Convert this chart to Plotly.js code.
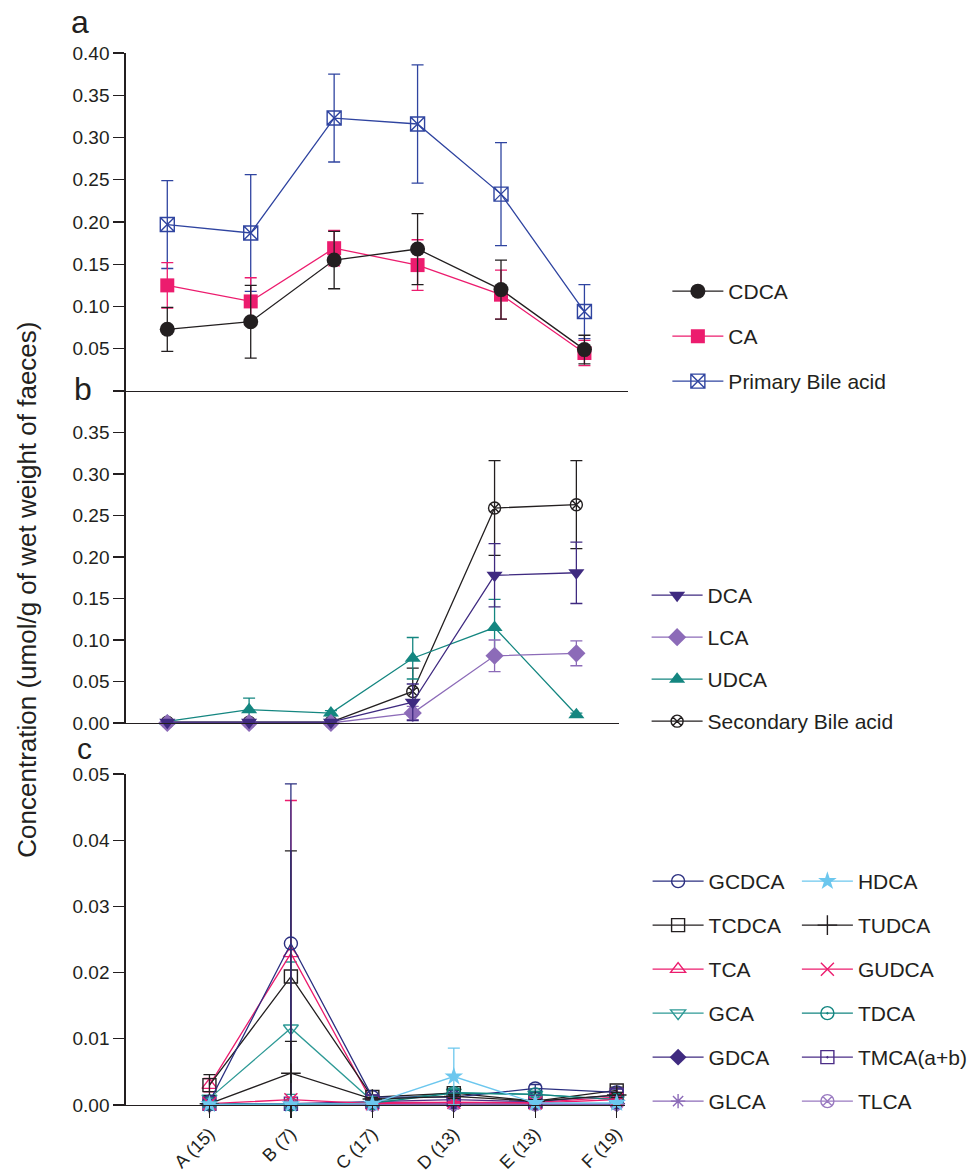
<!DOCTYPE html>
<html>
<head>
<meta charset="utf-8">
<script src="https://cdn.plot.ly/plotly-3.0.1.min.js"></script>
<style>html,body{margin:0;padding:0;background:#fff;}#chart{width:973px;height:1176px;}</style>
</head>
<body>
<div id="chart"></div>
<script>
// ---------- data ----------
const categories = ['A (15)', 'B (7)', 'C (17)', 'D (13)', 'E (13)', 'F (19)'];

// panel a (primary bile acids)
const cdca      = [0.073, 0.082, 0.155, 0.168, 0.120, 0.049];
const cdcaErr   = [0.026, 0.043, 0.034, 0.042, 0.035, 0.017];
const ca        = [0.125, 0.106, 0.169, 0.149, 0.114, 0.045];
const caErr     = [0.027, 0.028, 0.021, 0.030, 0.029, 0.015];
const primary   = [0.197, 0.187, 0.323, 0.316, 0.233, 0.094];
const primaryErr= [0.052, 0.069, 0.052, 0.070, 0.061, 0.032];

// panel b (secondary bile acids)
const dca       = [0.001, 0.001, 0.001, 0.025, 0.178, 0.181];
const dcaErr    = [0.000, 0.000, 0.000, 0.022, 0.038, 0.037];
const lca       = [0.000, 0.000, 0.000, 0.012, 0.081, 0.084];
const lcaErr    = [0.000, 0.000, 0.000, 0.008, 0.019, 0.015];
const udca      = [0.002, 0.016, 0.012, 0.078, 0.115, 0.010];
const udcaErr   = [0.001, 0.014, 0.003, 0.025, 0.034, 0.002];
const secondary = [0.001, 0.001, 0.001, 0.038, 0.259, 0.263];
const secondaryErr = [0.000, 0.000, 0.000, 0.028, 0.057, 0.053];

// panel c (conjugated bile acids)
const gcdca    = [0.0005, 0.0244, 0.0012, 0.0012, 0.0025, 0.0019];
const gcdcaErr = [0.0003, 0.0241, 0.0003, 0.0004, 0.0006, 0.0005];
const tcdca    = [0.0030, 0.0194, 0.0012, 0.0018, 0.0006, 0.0022];
const tcdcaErr = [0.0016, 0.0190, 0.0003, 0.0004, 0.0003, 0.0005];
const tca      = [0.0030, 0.0229, 0.0004, 0.0004, 0.0004, 0.0012];
const tcaErr   = [0.0010, 0.0231, 0.0002, 0.0002, 0.0002, 0.0005];
const gca      = [0.0010, 0.0116, 0.0006, 0.0019, 0.0016, 0.0008];
const gcaErr   = [0.0004, 0.0100, 0.0002, 0.0006, 0.0004, 0.0003];
const gdca     = [0.0001, 0.0001, 0.0001, 0.0001, 0.0002, 0.0002];
const gdcaErr  = [0.0001, 0.0001, 0.0001, 0.0001, 0.0001, 0.0001];
const glca     = [0.0001, 0.0001, 0.0001, 0.0001, 0.0001, 0.0001];
const glcaErr  = [0.0000, 0.0000, 0.0000, 0.0000, 0.0000, 0.0000];
const hdca     = [0.0001, 0.0001, 0.0002, 0.0043, 0.0003, 0.0003];
const hdcaErr  = [0.0000, 0.0000, 0.0001, 0.0043, 0.0001, 0.0001];
const tudca    = [0.0002, 0.0048, 0.0009, 0.0013, 0.0006, 0.0015];
const tudcaErr = [0.0001, 0.0048, 0.0002, 0.0003, 0.0002, 0.0004];
const gudca    = [0.0002, 0.0008, 0.0002, 0.0004, 0.0003, 0.0008];
const gudcaErr = [0.0001, 0.0003, 0.0001, 0.0001, 0.0001, 0.0002];
const tdca     = [0.0002, 0.0001, 0.0003, 0.0018, 0.0016, 0.0008];
const tdcaErr  = [0.0001, 0.0001, 0.0001, 0.0005, 0.0004, 0.0003];
const tmca     = [0.0002, 0.0002, 0.0005, 0.0008, 0.0005, 0.0015];
const tmcaErr  = [0.0001, 0.0001, 0.0002, 0.0003, 0.0002, 0.0004];
const tlca     = [0.0001, 0.0001, 0.0001, 0.0002, 0.0001, 0.0002];
const tlcaErr  = [0.0000, 0.0000, 0.0000, 0.0001, 0.0000, 0.0001];

const yTicksA = [0, 0.05, 0.10, 0.15, 0.20, 0.25, 0.30, 0.35, 0.40];
const yTextA  = ['', '0.05', '0.10', '0.15', '0.20', '0.25', '0.30', '0.35', '0.40'];
const yTicksB = [0, 0.05, 0.10, 0.15, 0.20, 0.25, 0.30, 0.35];
const yTextB  = ['0.00', '0.05', '0.10', '0.15', '0.20', '0.25', '0.30', '0.35'];
const yTicksC = [0, 0.01, 0.02, 0.03, 0.04, 0.05];
const yTextC  = ['0.00', '0.01', '0.02', '0.03', '0.04', '0.05'];

// ---------- helpers ----------
const W = 973, H = 1176;
const px = v => v / W;
const py = v => 1 - v / H;
const INK = '#231f20';
const FONT = 'Liberation Sans, Arial, sans-serif';

function tr(name, y, err, color, symbol, size, ax, legend, rank) {
  const open = symbol.indexOf('open') >= 0 || symbol.indexOf('thin') >= 0;
  return {
    type: 'scatter', mode: 'lines+markers', name: name,
    x: categories, y: y,
    xaxis: 'x' + (ax === 1 ? '' : ax), yaxis: 'y' + (ax === 1 ? '' : ax),
    legend: legend, legendgroup: name, legendrank: rank,
    cliponaxis: false,
    line: {color: color, width: 1.3},
    marker: {symbol: symbol, size: size, color: color,
             line: {color: color, width: open ? 1.4 : 0}},
    error_y: {type: 'data', array: err, visible: true, color: color, thickness: 1.3, width: 6}
  };
}

const data = [
  // panel a
  tr('Primary Bile acid', primary, primaryErr, '#2f44a0', 'square-x-open', 14, 1, 'legend', 3),
  tr('CA', ca, caErr, '#ec1c6e', 'square', 14, 1, 'legend', 2),
  tr('CDCA', cdca, cdcaErr, INK, 'circle', 15, 1, 'legend', 1),
  // panel b
  tr('Secondary Bile acid', secondary, secondaryErr, INK, 'circle-x-open', 12, 2, 'legend2', 4),
  tr('UDCA', udca, udcaErr, '#148680', 'triangle-up', 14, 2, 'legend2', 3),
  tr('LCA', lca, lcaErr, '#8c6bb8', 'diamond', 14, 2, 'legend2', 2),
  tr('DCA', dca, dcaErr, '#3f2a80', 'triangle-down', 14, 2, 'legend2', 1),
  // panel c, column 1
  tr('GLCA', glca, glcaErr, '#8c6bb8', 'asterisk-open', 12, 3, 'legend3', 6),
  tr('GDCA', gdca, gdcaErr, '#3f2a80', 'diamond', 13, 3, 'legend3', 5),
  tr('GCA', gca, gcaErr, '#2e9a96', 'triangle-down-open', 13, 3, 'legend3', 4),
  tr('TCA', tca, tcaErr, '#ec1c6e', 'triangle-up-open', 13, 3, 'legend3', 3),
  tr('TCDCA', tcdca, tcdcaErr, INK, 'square-open', 13, 3, 'legend3', 2),
  tr('GCDCA', gcdca, gcdcaErr, '#2b2f80', 'circle-open', 13, 3, 'legend3', 1),
  // panel c, column 2
  tr('TLCA', tlca, tlcaErr, '#9a7ac1', 'circle-x-open', 13, 3, 'legend4', 6),
  tr('TMCA(a+b)', tmca, tmcaErr, '#4b2d87', 'square-open-dot', 13, 3, 'legend4', 5),
  tr('TDCA', tdca, tdcaErr, '#128580', 'circle-open-dot', 13, 3, 'legend4', 4),
  tr('GUDCA', gudca, gudcaErr, '#ec1c6e', 'x-thin-open', 13, 3, 'legend4', 3),
  tr('TUDCA', tudca, tudcaErr, INK, 'cross-thin-open', 14, 3, 'legend4', 2),
  tr('HDCA', hdca, hdcaErr, '#6cc7ee', 'star', 14, 3, 'legend4', 1)
];

const tickFont = {family: FONT, size: 19, color: INK};
function yax(domain, range, vals, text) {
  return {domain: domain, range: range, tickvals: vals, ticktext: text, showgrid: false, zeroline: false,
          showline: true, linecolor: INK, linewidth: 1.3, ticks: 'outside', ticklen: 11, tickwidth: 1.3,
          tickcolor: INK, tickfont: tickFont, fixedrange: true};
}
function xax(domain, range, anchor, showTicks) {
  return {domain: domain, range: range, anchor: anchor, type: 'category', categoryarray: categories,
          showgrid: false, zeroline: false, showline: true, linecolor: INK, linewidth: 1.3,
          ticks: showTicks ? 'outside' : '', ticklen: 12, tickwidth: 1.3, tickcolor: INK,
          showticklabels: showTicks, tickangle: -45, ticklabelstandoff: -2,
          tickfont: {family: FONT, size: 18, color: INK}, fixedrange: true};
}
function leg(x, y, gap) {
  return {x: x, y: y, xanchor: 'left', yanchor: 'top', bgcolor: 'rgba(0,0,0,0)',
          font: {family: FONT, size: 21, color: INK}, traceorder: 'grouped', tracegroupgap: gap,
          itemwidth: 51, itemclick: false, itemdoubleclick: false};
}

const layout = {
  width: W, height: H, margin: {l: 0, r: 0, t: 0, b: 0},
  paper_bgcolor: '#fff', plot_bgcolor: 'rgba(0,0,0,0)',
  font: {family: FONT, color: INK},
  xaxis:  xax([px(127), px(635)], [-0.5, 5.52], 'y', false),
  yaxis:  yax([py(391), py(53)], [0, 0.40], yTicksA, yTextA),
  xaxis2: xax([px(127), px(626)], [-0.51, 5.52], 'y2', false),
  yaxis2: Object.assign(yax([py(723), py(391)], [0, 0.40], yTicksB, yTextB), {anchor: 'x2'}),
  xaxis3: xax([px(127), px(632)], [-1.03, 5.1], 'y3', true),
  yaxis3: Object.assign(yax([py(1105), py(774)], [0, 0.05], yTicksC, yTextC), {anchor: 'x3'}),
  legend:  leg(px(675), py(271), 14.7),
  legend2: leg(px(654), py(575), 11.7),
  legend3: leg(px(655), py(861), 13.7),
  legend4: leg(px(806), py(861), 13.7),
  annotations: [
    {text: 'Concentration (umol/g of wet weight of faeces)', textangle: -90, xref: 'paper', yref: 'paper',
     x: px(27), y: py(590), xanchor: 'center', yanchor: 'middle', showarrow: false,
     font: {family: FONT, size: 26, color: INK}},
    {text: 'a', xref: 'paper', yref: 'paper', x: px(81), y: py(22), xanchor: 'center', yanchor: 'middle',
     showarrow: false, font: {family: FONT, size: 32, color: INK}},
    {text: 'b', xref: 'paper', yref: 'paper', x: px(84), y: py(389), xanchor: 'center', yanchor: 'middle',
     showarrow: false, font: {family: FONT, size: 32, color: INK}},
    {text: 'c', xref: 'paper', yref: 'paper', x: px(85), y: py(748), xanchor: 'center', yanchor: 'middle',
     showarrow: false, font: {family: FONT, size: 30, color: INK}}
  ],
  showlegend: true
};

Plotly.newPlot('chart', data, layout, {staticPlot: true, displayModeBar: false});
</script>
</body>
</html>
